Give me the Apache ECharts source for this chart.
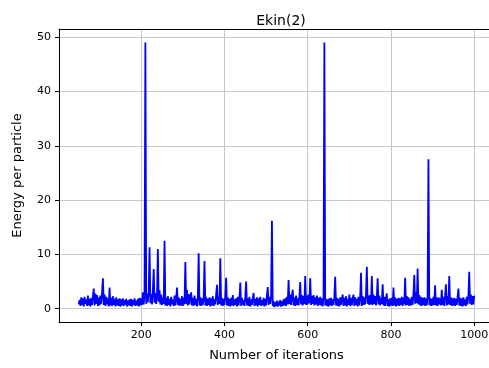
<!DOCTYPE html>
<html>
<head>
<meta charset="utf-8">
<script src="https://cdn.jsdelivr.net/npm/echarts@6/dist/echarts.min.js"></script>
<style>
html,body{margin:0;padding:0;background:#fff;overflow:hidden;}
#c{width:489px;height:368px;}
</style>
</head>
<body>
<div id="c"></div>
<script>
const iterations = [
  50,52,54,56,58,60,62,64,66,68,70,72,74,76,78,80,82,84,86,88,90,92,94,96,98,
  100,102,104,106,108,110,112,114,116,118,120,122,124,126,128,130,132,134,136,138,140,142,144,146,148,
  150,152,154,156,158,160,162,164,166,168,170,172,174,176,178,180,182,184,186,188,190,192,194,196,198,
  200,202,204,206,208,210,212,214,216,218,220,222,224,226,228,230,232,234,236,238,240,242,244,246,248,
  250,252,254,256,258,260,262,264,266,268,270,272,274,276,278,280,282,284,286,288,290,292,294,296,298,
  300,302,304,306,308,310,312,314,316,318,320,322,324,326,328,330,332,334,336,338,340,342,344,346,348,
  350,352,354,356,358,360,362,364,366,368,370,372,374,376,378,380,382,384,386,388,390,392,394,396,398,
  400,402,404,406,408,410,412,414,416,418,420,422,424,426,428,430,432,434,436,438,440,442,444,446,448,
  450,452,454,456,458,460,462,464,466,468,470,472,474,476,478,480,482,484,486,488,490,492,494,496,498,
  500,502,504,506,508,510,512,514,516,518,520,522,524,526,528,530,532,534,536,538,540,542,544,546,548,
  550,552,554,556,558,560,562,564,566,568,570,572,574,576,578,580,582,584,586,588,590,592,594,596,598,
  600,602,604,606,608,610,612,614,616,618,620,622,624,626,628,630,632,634,636,638,640,642,644,646,648,
  650,652,654,656,658,660,662,664,666,668,670,672,674,676,678,680,682,684,686,688,690,692,694,696,698,
  700,702,704,706,708,710,712,714,716,718,720,722,724,726,728,730,732,734,736,738,740,742,744,746,748,
  750,752,754,756,758,760,762,764,766,768,770,772,774,776,778,780,782,784,786,788,790,792,794,796,798,
  800,802,804,806,808,810,812,814,816,818,820,822,824,826,828,830,832,834,836,838,840,842,844,846,848,
  850,852,854,856,858,860,862,864,866,868,870,872,874,876,878,880,882,884,886,888,890,892,894,896,898,
  900,902,904,906,908,910,912,914,916,918,920,922,924,926,928,930,932,934,936,938,940,942,944,946,948,
  950,952,954,956,958,960,962,964,966,968,970,972,974,976,978,980,982,984,986,988,990,992,994,996,998,
  1000
];
const energy = [
  0.8,1.6,0.5,2.1,0.7,1.9,0.4,2.2,0.9,1.7,0.5,2.4,0.6,1.8,0.4,2.0,0.7,2.3,3.7,0.6,2.8,0.9,2.5,0.5,2.1,
  0.6,2.4,0.9,3.0,5.6,0.7,2.6,0.5,2.2,0.8,1.9,0.4,3.9,0.6,2.0,0.5,2.3,0.7,1.8,0.4,2.1,0.6,1.7,0.5,1.9,
  0.4,1.7,0.6,1.9,0.5,1.6,0.7,1.8,0.4,1.5,0.6,1.7,0.5,1.8,0.4,1.6,0.7,1.9,0.5,1.5,0.6,1.8,0.4,2.0,0.6,
  1.9,0.7,3.0,0.8,2.6,49.0,0.9,2.8,1.2,3.1,11.3,1.0,2.7,0.8,3.3,7.3,1.1,2.9,0.9,2.4,11.0,1.3,3.4,0.8,2.6,
  0.7,2.1,0.9,12.5,0.6,2.0,0.5,2.3,0.7,1.8,0.4,2.2,0.8,1.7,0.5,2.4,0.6,1.9,3.9,0.7,2.1,0.5,1.8,0.6,2.3,
  0.5,2.0,0.8,8.6,0.9,3.5,0.6,2.7,0.8,2.2,3.0,0.6,2.0,0.5,2.4,0.7,1.8,0.4,2.2,10.2,0.6,2.1,0.5,1.9,0.7,
  2.0,8.8,0.6,2.2,0.5,1.8,0.7,2.1,0.4,1.9,0.6,2.3,0.5,1.7,0.8,2.6,4.4,0.7,2.2,0.9,9.3,0.6,2.0,0.5,1.8,
  0.7,2.3,5.7,0.6,2.1,0.5,1.8,0.4,2.0,0.6,2.5,0.5,1.7,0.7,1.9,0.4,2.2,0.6,1.8,4.8,0.5,2.0,0.7,1.6,0.5,
  2.1,5.0,0.6,1.9,0.5,2.2,0.4,1.7,0.7,2.0,2.9,0.5,1.8,0.6,2.1,0.4,1.9,0.7,2.2,0.5,1.6,0.6,2.0,0.4,1.8,
  0.6,2.4,4.0,0.7,2.2,0.9,2.0,16.2,0.5,1.4,0.3,1.2,0.5,1.5,0.4,1.3,0.6,1.6,0.4,1.4,0.5,1.7,0.6,1.9,0.5,
  2.2,0.8,5.3,0.9,2.6,0.7,2.3,3.5,0.6,2.1,0.5,2.4,0.7,1.9,0.6,2.2,4.9,0.8,2.5,0.6,2.3,0.9,6.0,0.7,2.4,
  0.8,2.6,1.0,5.6,0.7,2.3,0.9,2.5,0.6,2.1,0.8,2.4,0.5,2.0,0.7,2.2,0.6,1.9,0.4,2.1,49.0,0.6,1.8,0.5,1.7,
  0.4,1.9,0.6,2.0,0.5,1.7,0.7,2.2,5.9,0.6,2.0,0.5,1.8,0.4,2.1,0.7,1.9,2.6,0.5,2.0,0.6,2.3,0.4,1.8,0.7,
  2.6,0.5,2.0,0.6,1.9,2.6,0.5,2.1,0.7,1.8,0.4,2.2,0.6,2.0,6.6,0.5,2.3,0.7,2.1,0.8,2.6,7.7,0.9,2.4,0.7,
  2.5,0.8,6.0,0.7,2.6,0.9,2.3,0.6,2.2,5.6,0.8,2.4,0.6,2.0,0.9,4.5,0.6,2.2,0.5,1.9,2.8,0.5,1.7,0.4,1.9,
  0.6,2.0,0.5,3.9,0.6,2.1,0.4,1.8,0.6,2.0,0.5,1.9,0.7,2.2,0.5,2.0,0.8,5.7,0.6,2.3,0.7,2.1,0.5,1.8,0.6,
  2.2,0.7,2.6,6.2,0.9,3.0,1.0,7.4,0.8,2.5,0.6,2.2,0.5,2.0,0.7,2.1,0.5,1.9,0.6,2.3,27.5,0.7,2.0,0.5,1.8,
  0.6,2.2,0.7,4.3,0.6,2.0,0.5,2.1,0.8,1.9,0.6,3.5,0.7,2.2,0.5,2.4,4.5,0.6,2.3,0.8,6.0,0.7,2.1,0.5,1.9,
  0.6,2.0,0.5,1.8,0.7,2.2,3.7,0.6,2.0,0.5,1.9,0.4,2.1,0.6,1.7,0.5,2.2,0.8,2.4,6.8,0.9,2.6,0.7,2.3,0.8,
  2.4
];
const yTicks = [0,10,20,30,40,50];
const xTicks = [200,400,600,800,1000];

const points = iterations.map((x,i)=>[x, energy[i]]);
const font = 'DejaVu Sans';
const chart = echarts.init(document.getElementById('c'), null, {renderer:'canvas'});
chart.setOption({
  animation:false,
  backgroundColor:'#ffffff',
  title:{
    text:'Ekin(2)', left:276, top:9, textAlign:'center',
    textStyle:{fontFamily:font,fontSize:14,fontWeight:'normal',color:'#000'}
  },
  grid:{left:59, top:29, width:435, height:293, containLabel:false, outerBoundsMode:'none', show:false},
  xAxis:[{
    type:'value', min:2.5, max:1047.5, splitNumber:5,
    name:'Number of iterations', nameLocation:'middle', nameGap:27,
    nameTextStyle:{fontFamily:font,fontSize:13,color:'#000'},
    axisLine:{show:true,onZero:false,lineStyle:{color:'#000',width:1}},
    axisTick:{show:true,length:4,lineStyle:{color:'#000'}},
    axisLabel:{fontFamily:font,fontSize:11,color:'#000',margin:8,showMinLabel:false,showMaxLabel:false,hideOverlap:false,
      formatter:v=> xTicks.includes(v)? String(v):''},
    splitLine:{show:true,lineStyle:{color:'#c8c8c8',width:1}}
  },{
    type:'value', position:'top', min:2.5, max:1047.5,
    axisLine:{show:true,onZero:false,lineStyle:{color:'#000',width:1}},
    axisTick:{show:false}, axisLabel:{show:false}, splitLine:{show:false}
  }],
  yAxis:{
    type:'value', min:-2.45, max:51.5, splitNumber:5,
    name:'Energy per particle', nameLocation:'middle', nameGap:35, nameRotate:90,
    nameTextStyle:{fontFamily:font,fontSize:13,color:'#000'},
    axisLine:{show:true,onZero:false,lineStyle:{color:'#000',width:1}},
    axisTick:{show:true,length:4,lineStyle:{color:'#000'}},
    axisLabel:{fontFamily:font,fontSize:11,color:'#000',margin:8,showMinLabel:false,showMaxLabel:false,
      formatter:v=> yTicks.includes(v)? String(v):''},
    splitLine:{show:true,lineStyle:{color:'#c8c8c8',width:1}}
  },
  series:[{
    type:'line', data:points, showSymbol:false, symbol:'none', xAxisIndex:0,
    lineStyle:{color:'#0000ff',width:1.8}, itemStyle:{color:'#0000ff'}
  }]
});
</script>
</body>
</html>
